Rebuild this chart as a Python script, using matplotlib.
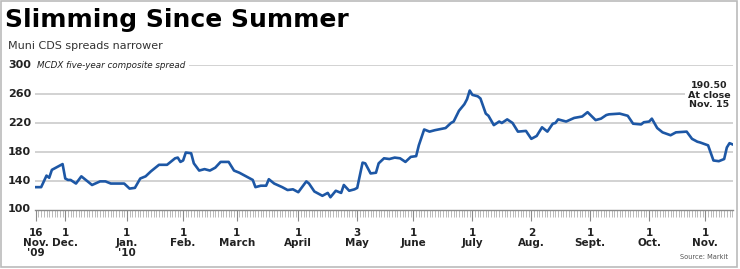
import numpy as np
import matplotlib
matplotlib.use('Agg')
import matplotlib.pyplot as plt
from matplotlib.patches import Rectangle

# MCDX five-year composite spread
# x = weekday number counted from Nov. 16, 2009
bday = [0, 2, 4, 5, 6, 9, 10, 11, 12, 13, 15, 17, 18, 21, 24, 26, 28, 33, 35, 37,
        39, 41, 43, 44, 46, 49, 51, 52, 53, 54, 55, 56, 58, 59, 61, 63, 65, 67, 69, 72,
        74, 76, 78, 81, 82, 84, 86, 87, 89, 92, 94, 96, 98, 101, 102, 104, 107, 109, 110, 112,
        114, 115, 117, 119, 120, 122, 123, 125, 127, 128, 130, 132, 134, 136, 138, 140, 142, 143, 145, 147,
        149, 153, 155, 156, 158, 160, 161, 162, 163, 165, 166, 168, 169, 171, 173, 174, 176, 178, 180, 183,
        185, 187, 189, 191, 193, 194, 195, 198, 201, 204, 206, 209, 211, 213, 214, 218, 221, 223, 226, 227,
        229, 230, 232, 234, 237, 239, 243, 245, 247, 248, 251, 253, 255, 257, 258, 259, 260]
spread = [131, 131, 147, 144, 155, 161, 163, 143, 141, 141, 136, 146, 143, 134, 139, 139, 136, 136, 129, 130,
          143, 146, 153, 156, 162, 162, 168, 171, 172, 166, 168, 179, 178, 164, 154, 156, 154, 158, 166, 166,
          154, 151, 147, 141, 131, 133, 133, 142, 136, 131, 127, 128, 124, 139, 136, 125, 119, 123, 117, 126,
          123, 134, 126, 128, 130, 165, 164, 150, 151, 164, 171, 170, 172, 171, 166, 173, 174, 189, 211, 208,
          210, 213, 220, 222, 237, 246, 253, 265, 259, 257, 254, 233, 230, 217, 222, 220, 225, 220, 208, 209,
          198, 202, 214, 208, 219, 220, 225, 222, 227, 229, 235, 224, 226, 231, 232, 233, 230, 219, 218, 221,
          222, 226, 213, 207, 203, 207, 208, 198, 194, 193, 189, 168, 167, 170, 186, 192, 190.5]

tick_dates = ['2009-11-16', '2009-12-01', '2010-01-01', '2010-02-01', '2010-03-01', '2010-04-01',
              '2010-05-03', '2010-06-01', '2010-07-01', '2010-08-02', '2010-09-01', '2010-10-01', '2010-11-01']
tick_labels = ["16\nNov.\n'09", "1\nDec.", "1\nJan.\n'10", "1\nFeb.", "1\nMarch", "1\nApril",
               "3\nMay", "1\nJune", "1\nJuly", "2\nAug.", "1\nSept.", "1\nOct.", "1\nNov."]
y_ticks = [100, 140, 180, 220, 260, 300]

W, H = 740, 269
fig = plt.figure(figsize=(W / 100, H / 100), dpi=100)
ax = fig.add_axes([35 / W, (H - 209.5) / H, (733 - 35) / W, (209.5 - 65.3) / H])

ax.plot(bday, spread, color='#1d57a5', lw=1.9, solid_joinstyle='round', zorder=3)

ax.set_ylim(100, 300)
ax.set_xlim(-0.3, 260.3)

for v in y_ticks[1:]:
    ax.axhline(v, color='#cfcfcf', lw=1.3, zorder=1)
    ax.text(-27 / 698, v, str(v), transform=ax.get_yaxis_transform(), ha='left', va='center',
            fontsize=8, fontweight='bold', color='#222222')
ax.text(-27 / 698, 100, '100', transform=ax.get_yaxis_transform(), ha='left', va='center',
        fontsize=8, fontweight='bold', color='#222222')
ax.text(0.4, 300, 'MCDX five-year composite spread', ha='left', va='center', fontsize=6.3,
        style='italic', color='#222222', zorder=2,
        bbox=dict(facecolor='white', edgecolor='none', pad=2.5))

for s in ['top', 'right', 'left']:
    ax.spines[s].set_visible(False)
ax.spines['bottom'].set_color('#8a8a8a')
ax.spines['bottom'].set_linewidth(1.0)
ax.set_yticks([])

tick_pos = [int(np.busday_count('2009-11-16', d)) for d in tick_dates]
ax.set_xticks(tick_pos, tick_labels)
ax.set_xticks(np.arange(0, 261), minor=True)
ax.tick_params(axis='x', which='major', length=8, width=0.8, color='#8a8a8a', pad=5,
               labelsize=7.5)
ax.tick_params(axis='x', which='minor', length=5, width=0.5, color='#a0a0a0')
for lab in ax.get_xticklabels():
    lab.set_fontweight('bold')
    lab.set_linespacing(1.0)
    lab.set_color('#222222')

fig.text(5 / W, 1 - 20 / H, 'Slimming Since Summer', fontsize=18, fontweight='bold',
         ha='left', va='center', color='black')
fig.text(8 / W, 1 - 46 / H, 'Muni CDS spreads narrower', fontsize=8, ha='left', va='center',
         color='#333333')
fig.text(709 / W, 1 - 95 / H, '190.50\nAt close\nNov. 15', fontsize=6.8, fontweight='bold',
         ha='center', va='center', linespacing=1.1, color='#222222', zorder=5,
         bbox=dict(facecolor='white', edgecolor='none', pad=2))
fig.text(728 / W, 1 - 257 / H, 'Source: Markit', fontsize=4.8, ha='right', va='center',
         color='#555555')

fig.patches.append(Rectangle((0.5 / W, 2 / H), (W - 3.5) / W, (H - 3) / H, transform=fig.transFigure,
                             fill=False, edgecolor='#bbbbbb', lw=1.2))

fig.savefig('out.png', dpi=100)
